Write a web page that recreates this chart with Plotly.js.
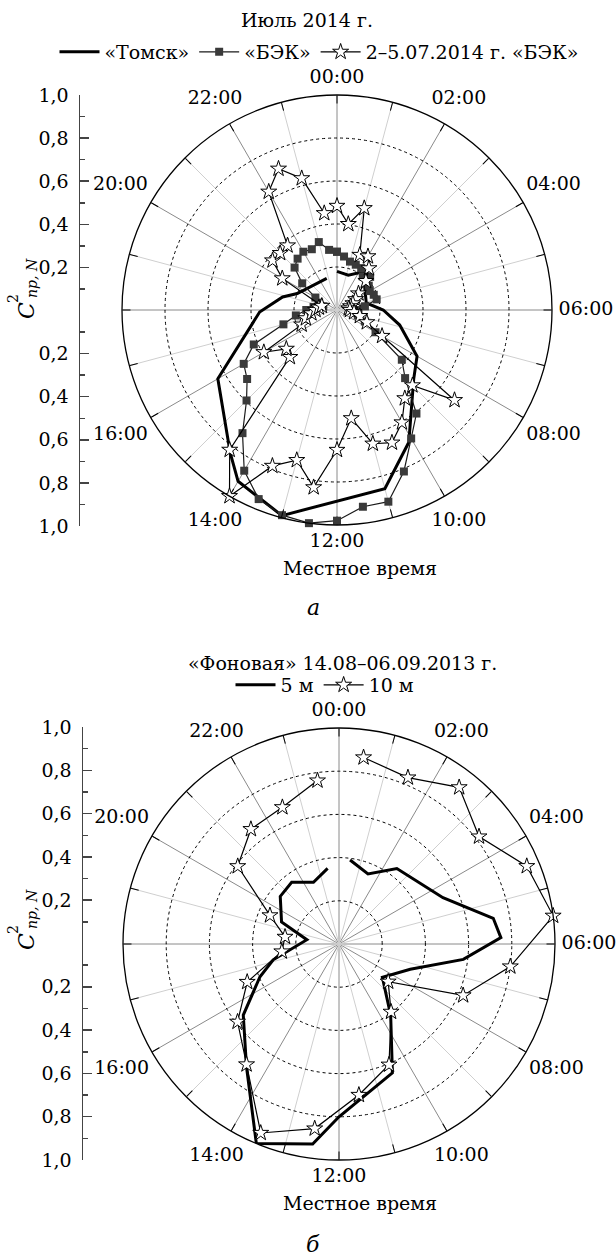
<!DOCTYPE html>
<html><head><meta charset="utf-8">
<script src="https://cdn.plot.ly/plotly-3.0.1.min.js"></script>
<style>body{margin:0;background:#fff}#chart{width:616px;height:1256px}</style>
</head><body><div id="chart"></div>
<script>
// ---------- angular ticks ----------
const evenHours = [0,2,4,6,8,10,12,14,16,18,20,22];
const evenLabels = ['00:00','02:00','04:00','06:00','08:00','10:00','12:00','14:00','16:00','','20:00','22:00'];
const oddHours = [1,3,5,7,9,11,13,15,17,19,21,23];
const radialGrid = [0.2,0.4,0.6,0.8];
// left scale
const scaleVals = [1,0.8,0.6,0.4,0.2,-0.2,-0.4,-0.6,-0.8,-1];
const scaleText = ['1,0','0,8','0,6','0,4','0,2','0,2','0,4','0,6','0,8','1,0'];
const scaleMinor = [0.9,0.7,0.5,0.3,0.1,-0.1,-0.3,-0.5,-0.7,-0.9];

// ---------- (а) Июль 2014 г. ----------
const tomskHours = [0,1.2,2.3,5.1,6,6.9,8,8.8,10.1,11,13,14,14.45,16,17.9,18.9,19.5,22.8];
const tomskR     = [0.18,0.17,0.215,0.14,0.215,0.30,0.43,0.48,0.70,0.86,0.99,0.92,0.83,0.64,0.36,0.26,0.20,0.155];

const bekHours = [0,0.5,1,1.5,2,2.5,3,3.5,4,4.5,5,5.5,6,6.5,7,7.5,8,8.5,9,9.5,10,10.5,11,11.5,12,12.5,13,13.5,14,14.5,15,15.5,16,16.5,17,17.5,18,18.5,19,19.5,20,20.5,21,21.5,22,22.5,23,23.5];
const bekR     = [0.271,0.251,0.233,0.228,0.225,0.197,0.218,0.186,0.176,0.185,0.191,0.131,0.10,0.08,0.10,0.14,0.207,0.380,0.448,0.607,0.690,0.813,0.923,0.923,0.980,1.0,0.988,0.952,0.863,0.722,0.595,0.527,0.501,0.419,0.258,0.193,0.143,0.11,0.066,0.09,0.116,0.204,0.279,0.301,0.313,0.306,0.327,0.282];

const bek25Hours = [0,0.5,1,1.5,2,2.5,3,3.5,4,4.5,5,5.5,6,6.5,7,7.5,8,8.5,9,9.5,10,10.5,11,11.5,12,12.5,13,13.5,14,14.5,15,15.5,16,16.5,17,17.5,18,18.5,19,20,20.5,21,21.5,22,22.5,23,23.5];
const bek25R     = [0.484,0.403,0.49,0.277,0.288,0.244,0.19,0.126,0.10,0.08,0.065,0.055,0.06,0.08,0.11,0.15,0.242,0.689,0.496,0.518,0.604,0.668,0.644,0.508,0.651,0.832,0.723,0.785,1.0,0.82,0.31,0.297,0.393,0.178,0.15,0.12,0.10,0.085,0.073,0.294,0.378,0.374,0.378,0.635,0.711,0.634,0.454];

// ---------- (б) «Фоновая» ----------
const m5Hours = [0.5,1.5,2.5,4.4,5.37,5.85,6.47,7.3,8.5,9.6,10.5,12,12.5,13.5,14.47,15.56,16.5,17.1,18.5,19.4,20.6,21.5,22.5,23.43];
const m5R     = [0.392,0.351,0.44,0.527,0.724,0.75,0.58,0.35,0.253,0.407,0.646,0.80,0.934,1.0,0.711,0.552,0.396,0.313,0.15,0.285,0.35,0.36,0.309,0.354];

const m10Hours = [0.5,1.5,2.5,3.5,4.5,5.5,6.5,7.5,8.5,9.5,10.5,11.5,12.5,13.5,14.5,15.5,16.5,17.5,18.5,19.5,20.5,21.5,22.5,23.5];
const m10R     = [0.871,0.834,0.914,0.817,0.941,1.0,0.80,0.622,0.287,0.396,0.605,0.705,0.862,0.947,0.703,0.592,0.46,0.267,0.252,0.346,0.591,0.67,0.685,0.763];

const deg = a => a.map(h => h * 15);
const FONT = 'DejaVu Serif';
const FS = 19;
const W = 616, H = 1256;
const px = x => x / W, py = y => 1 - y / H;
const LBL_MAX = 1.2;   // radial range of the label layer (outer ring = 1)

// radial position of hour labels (label box kept a fixed gap outside the ring)
function labelR(Rpx) {
  return evenHours.map(h => {
    const a = h * 15 * Math.PI / 180;
    return 1 + (8 + 9 * Math.abs(Math.cos(a)) + 26 * Math.abs(Math.sin(a))) / Rpx;
  });
}

const starMarker = {symbol:'star', size:12, color:'#fff', line:{color:'#000', width:1}};
const empty = s => ({type:'scatterpolar', subplot:s, r:[], theta:[], showlegend:false, hoverinfo:'skip'});

const traces = [
  empty('polar'),
  {type:'scatterpolar', subplot:'polar2', name:'«Томск»', legend:'legend',
   r:tomskR, theta:deg(tomskHours), mode:'lines', line:{color:'#000', width:3}},
  {type:'scatterpolar', subplot:'polar2', name:'«БЭК»', legend:'legend',
   r:bekR.concat([bekR[0]]), theta:deg(bekHours).concat([360]), mode:'lines+markers',
   line:{color:'#1a1a1a', width:1.2}, marker:{symbol:'square', size:8, color:'#3a3a3a'}},
  {type:'scatterpolar', subplot:'polar2', name:'2–5.07.2014 г. «БЭК»', legend:'legend',
   r:bek25R, theta:deg(bek25Hours), mode:'lines+markers',
   line:{color:'#000', width:1.2}, marker:starMarker},
  empty('polar3'),
  {type:'scatterpolar', subplot:'polar4', name:'5 м', legend:'legend2',
   r:m5R, theta:deg(m5Hours), mode:'lines', line:{color:'#000', width:3}},
  {type:'scatterpolar', subplot:'polar4', name:'10 м', legend:'legend2',
   r:m10R, theta:deg(m10Hours), mode:'lines+markers',
   line:{color:'#000', width:1.2}, marker:starMarker},
  {type:'scatterpolar', subplot:'polar5', r:labelR(215), theta:deg(evenHours), mode:'text',
   text:evenLabels, textposition:'middle center', showlegend:false, hoverinfo:'skip',
   textfont:{family:FONT, size:FS, color:'#000'}},
  {type:'scatterpolar', subplot:'polar6', r:labelR(216), theta:deg(evenHours), mode:'text',
   text:evenLabels, textposition:'middle center', showlegend:false, hoverinfo:'skip',
   textfont:{family:FONT, size:FS, color:'#000'}},
  {type:'scatter', x:[], y:[], xaxis:'x', yaxis:'y', showlegend:false, hoverinfo:'skip'},
  {type:'scatter', x:[], y:[], xaxis:'x2', yaxis:'y2', showlegend:false, hoverinfo:'skip'}
];

function gridPolar(dom) {
  return {
    domain: dom, bgcolor:'rgba(0,0,0,0)',
    angularaxis: {rotation:90, direction:'clockwise', tickmode:'array',
      tickvals: deg(evenHours), showticklabels:false, showline:false,
      ticks:'inside', ticklen:8, tickcolor:'#000', tickwidth:1,
      gridcolor:'#8a8a8a', gridwidth:1},
    radialaxis: {visible:false, range:[0,1]}
  };
}
function dataPolar(dom) {
  return {
    domain: dom, bgcolor:'rgba(0,0,0,0)',
    angularaxis: {rotation:90, direction:'clockwise', tickmode:'array',
      tickvals: deg(oddHours), showticklabels:false, showline:true,
      linecolor:'#000', linewidth:1.3, ticks:'inside', ticklen:8, tickcolor:'#000',
      gridcolor:'#cfcfcf', gridwidth:1},
    radialaxis: {range:[0,1], tickmode:'array', tickvals: radialGrid, showticklabels:false,
      ticks:'', showline:false, gridcolor:'#000', griddash:'dot', gridwidth:1}
  };
}
function labelPolar(cx, cy, Rpx) {
  const R2 = Rpx * LBL_MAX;
  return {
    domain: {x:[px(cx - R2), px(cx + R2)], y:[py(cy + R2), py(cy - R2)]}, bgcolor:'rgba(0,0,0,0)',
    angularaxis: {rotation:90, direction:'clockwise', visible:false, showgrid:false},
    radialaxis: {range:[0, LBL_MAX], visible:false, showgrid:false}
  };
}
function leftAxis(dom, xa) {
  return {
    domain: dom, anchor: xa, range:[-1,1], side:'left', showline:true, linecolor:'#444', linewidth:1.5,
    tickmode:'array', tickvals: scaleVals, ticktext: scaleText, ticks:'inside', ticklen:9,
    tickcolor:'#444', tickwidth:1.5, ticklabelstandoff:6, showgrid:false, zeroline:false,
    tickfont:{family:FONT, size:FS, color:'#000'},
    minor:{tickmode:'array', tickvals: scaleMinor, ticks:'inside', ticklen:5, tickcolor:'#444', tickwidth:1.5, showgrid:false}
  };
}

const topDom = {x:[px(122), px(552)], y:[py(525), py(95)]};
const botDom = {x:[px(123), px(555)], y:[py(1160), py(728)]};

function cLabel(cy) {
  return [
    {text:'<i>C</i>', x:px(26), y:py(cy), textangle:-90, font:{family:FONT, size:22}},
    {text:'2', x:px(13), y:py(cy-12), textangle:-90, font:{family:FONT, size:14}},
    {text:'<i>пр, N</i>', x:px(32), y:py(cy-33), textangle:-90, font:{family:FONT, size:14}}
  ];
}
const ann = [
  {text:'Июль 2014 г.', x:px(307), y:py(20)},
  {text:'Местное время', x:px(360), y:py(568)},
  {text:'<i>а</i>', x:px(313), y:py(607), font:{family:FONT, size:22}},
  {text:'«Фоновая» 14.08–06.09.2013 г.', x:px(342), y:py(663)},
  {text:'Местное время', x:px(360), y:py(1203)},
  {text:'<i>б</i>', x:px(313), y:py(1244), font:{family:FONT, size:22}},
  ...cLabel(311), ...cLabel(942)
].map(a => Object.assign({xref:'paper', yref:'paper', showarrow:false, xanchor:'center', yanchor:'middle',
  font:{family:FONT, size:FS, color:'#000'}}, a));

const layout = {
  width: W, height: H, margin:{l:0, r:0, t:0, b:0},
  paper_bgcolor:'#fff', plot_bgcolor:'rgba(0,0,0,0)',
  font:{family:FONT, size:FS, color:'#000'},
  showlegend:true,
  polar: gridPolar(topDom), polar2: dataPolar(topDom),
  polar3: gridPolar(botDom), polar4: dataPolar(botDom),
  polar5: labelPolar(337, 310, 215), polar6: labelPolar(339, 944, 216),
  xaxis: {domain:[px(80), px(90)], visible:false, range:[0,1], fixedrange:true},
  yaxis: leftAxis([py(526), py(95)], 'x'),
  xaxis2: {domain:[px(83), px(93)], visible:false, range:[0,1], fixedrange:true},
  yaxis2: leftAxis([py(1160), py(727)], 'x2'),
  legend: {orientation:'h', x:px(319), xanchor:'center', y:py(52), yanchor:'middle',
    font:{family:FONT, size:FS}, bgcolor:'rgba(0,0,0,0)', itemwidth:40},
  legend2: {orientation:'h', x:px(325), xanchor:'center', y:py(685), yanchor:'middle',
    font:{family:FONT, size:FS}, bgcolor:'rgba(0,0,0,0)', itemwidth:40},
  annotations: ann
};

Plotly.newPlot('chart', traces, layout, {displayModeBar:false, staticPlot:true});
</script>
</body></html>
